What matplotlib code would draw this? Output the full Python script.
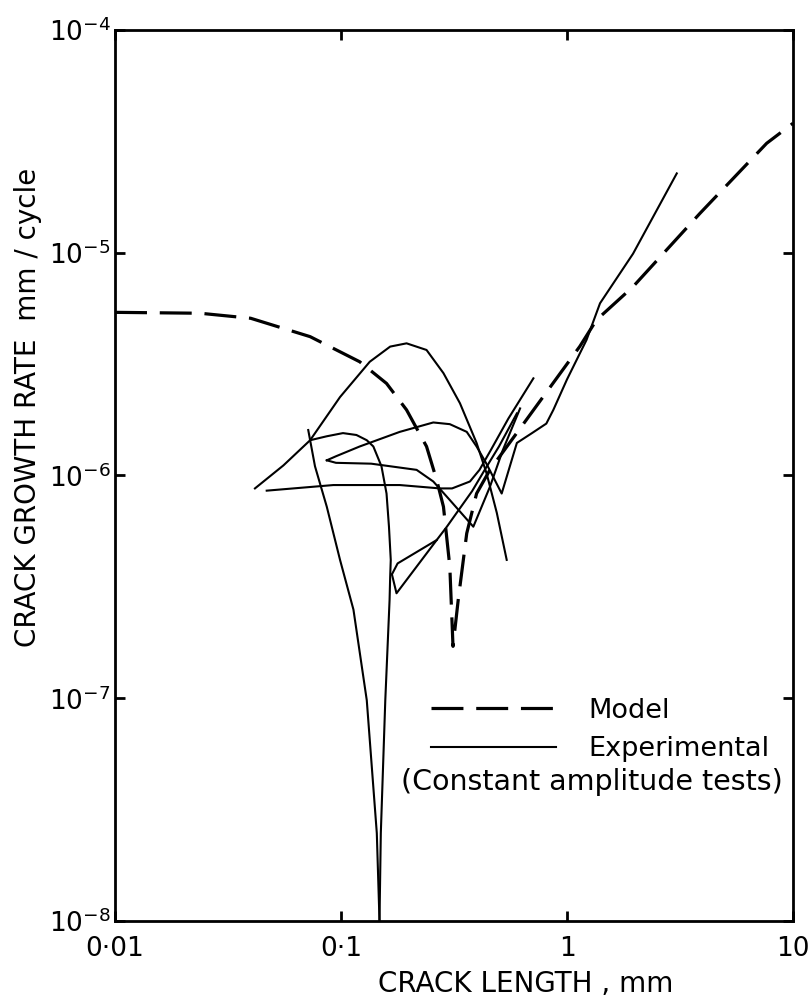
import matplotlib.pyplot as plt
from matplotlib.lines import Line2D
from matplotlib.ticker import NullLocator

# model curve (dashed)
model_x = [0.01, 0.0238, 0.0398, 0.073, 0.121, 0.159, 0.195, 0.239, 0.265, 0.284,
           0.303, 0.313, 0.330, 0.360, 0.398, 0.456, 1.14, 1.35, 1.96, 3.87, 7.65, 10]
model_y = [5.4e-6, 5.35e-6, 5.08e-6, 4.2e-6, 3.24e-6, 2.59e-6, 1.97e-6, 1.35e-6, 9.55e-7, 7.24e-7,
           3.9e-7, 1.71e-7, 2.76e-7, 5.5e-7, 8.3e-7, 1.06e-6, 3.8e-6, 4.99e-6, 7.04e-6, 1.5e-5, 3.1e-5, 3.81e-5]

# experimental curves (solid)
hump_x = [0.0416, 0.0556, 0.073, 0.099, 0.134, 0.165, 0.195, 0.239, 0.284, 0.336, 0.398, 0.441, 0.489, 0.541]
hump_y = [8.75e-7, 1.11e-6, 1.44e-6, 2.25e-6, 3.24e-6, 3.79e-6, 3.92e-6, 3.66e-6, 2.88e-6, 2.11e-6,
          1.40e-6, 1.02e-6, 6.8e-7, 4.18e-7]

flat_x = [0.0469, 0.0925, 0.182, 0.274, 0.31, 0.372, 0.41, 0.46, 0.55, 0.71]
flat_y = [8.55e-7, 9.06e-7, 9.06e-7, 8.75e-7, 8.75e-7, 9.4e-7, 1.06e-6, 1.3e-6, 1.8e-6, 2.73e-6]

shelf_x = [0.0865, 0.095, 0.121, 0.182, 0.256, 0.303, 0.36, 0.398, 0.44, 0.514, 0.60, 0.70,
           0.81, 0.87, 1.0, 1.22, 1.4, 1.96, 3.06]
shelf_y = [1.17e-6, 1.22e-6, 1.35e-6, 1.57e-6, 1.73e-6, 1.70e-6, 1.57e-6, 1.35e-6, 1.13e-6, 8.3e-7,
           1.4e-6, 1.55e-6, 1.71e-6, 1.97e-6, 2.7e-6, 4.06e-6, 5.93e-6, 9.9e-6, 2.27e-5]

hook_x = [0.0865, 0.095, 0.136, 0.216, 0.256, 0.303, 0.385, 0.456, 0.52, 0.62]
hook_y = [1.17e-6, 1.14e-6, 1.13e-6, 1.06e-6, 9.4e-7, 7.76e-7, 5.89e-7, 8.9e-7, 1.3e-6, 2.0e-6]

peak_x = [0.073, 0.0865, 0.102, 0.117, 0.130, 0.139, 0.151, 0.159, 0.163, 0.166, 0.165, 0.164,
          0.157, 0.150, 0.148]
peak_y = [1.44e-6, 1.50e-6, 1.55e-6, 1.52e-6, 1.44e-6, 1.35e-6, 1.10e-6, 8.3e-7, 5.89e-7, 4.18e-7,
          3.5e-7, 2.76e-7, 9.8e-8, 2.48e-8, 1.0e-8]

leg_x = [0.0716, 0.073, 0.0767, 0.0865, 0.099, 0.1135, 0.130, 0.144, 0.148]
leg_y = [1.6e-6, 1.44e-6, 1.10e-6, 7.24e-7, 4.18e-7, 2.5e-7, 9.8e-8, 2.48e-8, 1.0e-8]

zig_x = [0.168, 0.176, 0.265, 0.294, 0.325, 0.38, 0.43, 0.50, 0.60]
zig_y = [3.6e-7, 2.96e-7, 5.13e-7, 5.89e-7, 6.8e-7, 8.5e-7, 1.05e-6, 1.35e-6, 1.9e-6]

zig2_x = [0.168, 0.178, 0.265]
zig2_y = [3.6e-7, 4.03e-7, 5.13e-7]

x_labels = ['0·01', '0·1', '1', '10']
x_label_pos = [0.01, 0.1, 1, 10]
y_ticks = [1e-8, 1e-7, 1e-6, 1e-5, 1e-4]

plt.rcParams['font.family'] = 'DejaVu Sans'

fig = plt.figure(figsize=(8.09, 10.02), dpi=100)
ax = fig.add_axes([0.1422, 0.0808, 0.838, 0.8893])
ax.set_xscale('log')
ax.set_yscale('log')
ax.set_xlim(0.01, 10)
ax.set_ylim(1e-8, 1e-4)

ax.plot(model_x, model_y, color='black', lw=2.3, linestyle=(0, (10, 4)))
for xs, ys in [(hump_x, hump_y), (flat_x, flat_y), (shelf_x, shelf_y), (hook_x, hook_y),
               (peak_x, peak_y), (leg_x, leg_y), (zig_x, zig_y), (zig2_x, zig2_y)]:
    ax.plot(xs, ys, color='black', lw=1.5)

for s in ax.spines.values():
    s.set_linewidth(2)

ax.set_xticks(x_label_pos)
ax.set_xticklabels(x_labels)
ax.set_yticks(y_ticks)
ax.xaxis.set_minor_locator(NullLocator())
ax.yaxis.set_minor_locator(NullLocator())
ax.tick_params(which='major', direction='in', length=7, width=2,
               top=True, right=True, labelsize=19)
ax.tick_params(axis='y', pad=3)
ax.tick_params(axis='x', pad=11)

ax.set_xlabel('CRACK LENGTH , mm', fontsize=20)
ax.xaxis.set_label_coords(0.605, -0.055)
ax.set_ylabel('CRACK GROWTH RATE  mm / cycle', fontsize=20)
ax.yaxis.set_label_coords(-0.108, 0.577)

handles = [Line2D([], [], color='black', lw=2.3, linestyle=(0, (10, 4))),
           Line2D([], [], color='black', lw=1.5)]
ax.legend(handles, ['Model', 'Experimental'], loc='lower left',
          bbox_to_anchor=(0.43, 0.151), frameon=False, fontsize=19.5,
          handlelength=4.6, handletextpad=1.2, labelspacing=0.45)
ax.text(0.985, 0.156, '(Constant amplitude tests)', transform=ax.transAxes,
        ha='right', va='center', fontsize=20.5)

fig.savefig('out.png', dpi=100)
